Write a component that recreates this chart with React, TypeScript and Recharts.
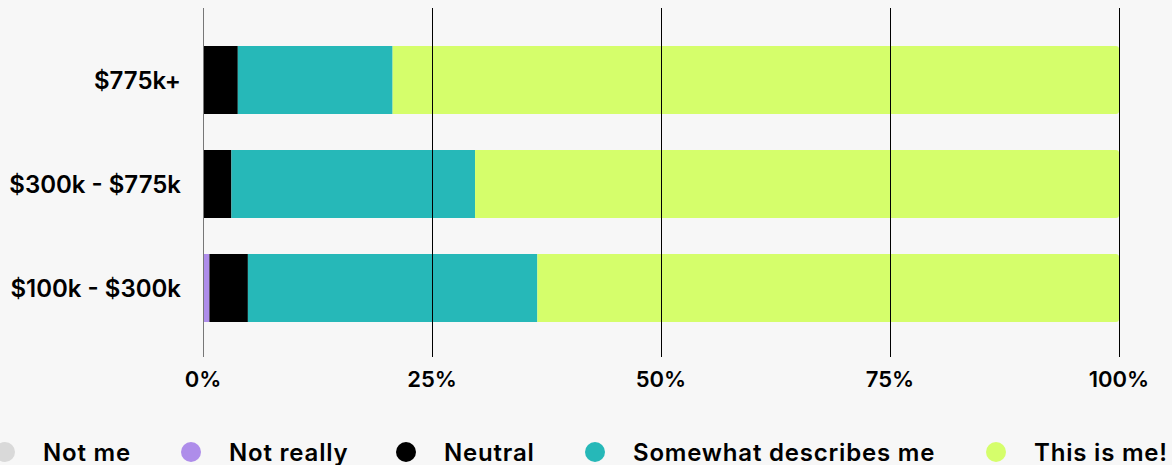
import { BarChart, Bar, XAxis, YAxis, CartesianGrid } from "recharts";

const CATEGORIES = ["$775k+", "$300k - $775k", "$100k - $300k"];
const NOT_ME = [0, 0, 0];
const NOT_REALLY = [0, 0, 0.7];
const NEUTRAL = [3.8, 3.1, 4.2];
const SOMEWHAT = [16.9, 26.6, 31.6];
const THIS_IS_ME = [79.3, 70.3, 63.5];
const X_TICKS = [0, 25, 50, 75, 100];

const SERIES = [
  { key: "notMe", name: "Not me", color: "#d9d9d9", values: NOT_ME },
  { key: "notReally", name: "Not really", color: "#ae8dea", values: NOT_REALLY },
  { key: "neutral", name: "Neutral", color: "#000000", values: NEUTRAL },
  { key: "somewhat", name: "Somewhat describes me", color: "#26b8b8", values: SOMEWHAT },
  { key: "thisIsMe", name: "This is me!", color: "#d5fe6b", values: THIS_IS_ME },
];

// legend text box widths, so the items line up with the original
const LEGEND_TEXT_W = [86, 115, 89, 301, 127];

const FONT = "Inter, 'Open Sans', sans-serif";

const data = CATEGORIES.map((category, i) => {
  const row: Record<string, string | number> = { category };
  SERIES.forEach((s) => {
    row[s.key] = s.values[i];
  });
  return row;
});

function Legend() {
  return (
    <div
      style={{
        display: "flex",
        alignItems: "center",
        marginLeft: -5,
        marginTop: 32,
        height: 20,
        whiteSpace: "nowrap",
        fontFamily: FONT,
        fontWeight: 600,
        fontSize: 24,
        letterSpacing: 0.8,
        color: "#000",
      }}
    >
      {SERIES.map((s, i) => (
        <div key={s.key} style={{ display: "flex", alignItems: "center", marginRight: 52 }}>
          <span
            style={{
              display: "inline-block",
              width: 20,
              height: 20,
              borderRadius: "50%",
              backgroundColor: s.color,
              marginRight: 28,
              flexShrink: 0,
            }}
          />
          <span style={{ display: "inline-block", width: LEGEND_TEXT_W[i] }}>{s.name}</span>
        </div>
      ))}
    </div>
  );
}

export default function App() {
  return (
    <div style={{ width: 1172, height: 465, background: "#f7f7f7", overflow: "hidden", position: "relative" }}>
      <style>{"body{margin:0;background:#f7f7f7}"}</style>
      <BarChart
        width={1172}
        height={410}
        data={data}
        layout="vertical"
        barSize={68}
        margin={{ top: 8, right: 53, bottom: 0, left: 0 }}
      >
        <XAxis
          type="number"
          domain={[0, 100]}
          ticks={X_TICKS}
          tickFormatter={(v: number) => `${v}%`}
          axisLine={false}
          tickLine={false}
          tickMargin={8}
          height={53}
          tick={{ fontSize: 22, fontWeight: 600, fill: "#000", fontFamily: FONT }}
        />
        <YAxis
          type="category"
          dataKey="category"
          width={203}
          padding={{ top: 20, bottom: 17 }}
          axisLine={{ stroke: "#777777", strokeWidth: 1, shapeRendering: "crispEdges" }}
          tickLine={false}
          tickMargin={16}
          tick={{ fontSize: 24, fontWeight: 600, fill: "#000", fontFamily: FONT }}
        />
        {SERIES.map((s, i) => (
          <Bar
            key={s.key}
            dataKey={s.key}
            name={s.name}
            stackId="a"
            fill={s.color}
            radius={i === SERIES.length - 1 ? [0, 3, 3, 0] : 0}
            isAnimationActive={false}
          />
        ))}
        {/* grid goes over the bars, as in the original; 0% is the grey axis line */}
        <CartesianGrid
          horizontal={false}
          verticalValues={X_TICKS.slice(1)}
          stroke="#000"
          strokeWidth={1}
          shapeRendering="crispEdges"
          zIndex={1000}
        />
      </BarChart>
      <Legend />
    </div>
  );
}
